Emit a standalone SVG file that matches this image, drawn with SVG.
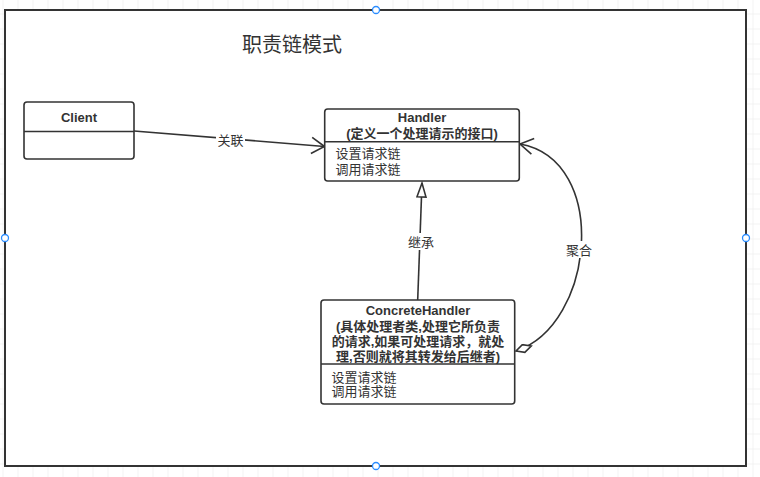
<svg xmlns="http://www.w3.org/2000/svg" width="760" height="477" viewBox="0 0 760 477">
<defs>
<pattern id="grid" x="2.5" y="13.5" width="15" height="15" patternUnits="userSpaceOnUse">
<path d="M0,0 V15 M0,0 H15" fill="none" stroke="#e8e8e8" stroke-width="1"/>
</pattern>
<marker id="openArrow" markerUnits="userSpaceOnUse" markerWidth="20" markerHeight="20" refX="14" refY="9" orient="auto">
<path d="M1,1 L14,9 L1,17" fill="none" stroke="#333" stroke-width="1.6"/>
</marker>
<marker id="hollowTri" markerUnits="userSpaceOnUse" markerWidth="18" markerHeight="12" refX="15" refY="5.5" orient="auto">
<path d="M1,1 L15,5.5 L1,10 Z" fill="#fff" stroke="#333" stroke-width="1.6"/>
</marker>
<marker id="diamond" markerUnits="userSpaceOnUse" markerWidth="20" markerHeight="12" refX="1" refY="5" orient="auto">
<path d="M1,5 L9,1 L17,5 L9,9 Z" fill="#fff" stroke="#333" stroke-width="1.6"/>
</marker>
</defs>
<style>
.node{fill:#fff;stroke:#333;stroke-width:1.6}
.div{stroke:#333;stroke-width:1.6}
.conn{fill:none;stroke:#333;stroke-width:1.6}
.t{font-family:"Liberation Sans","Noto Sans CJK SC",sans-serif;font-size:13px;fill:#333}
.b{font-weight:bold;text-anchor:middle}
.lbl{text-anchor:middle}
.handle{fill:#fff;stroke:#2a8cff;stroke-width:1.3}
</style>
<rect width="760" height="477" fill="#fff"/>
<rect width="760" height="477" fill="url(#grid)"/>
<g id="frame">
<rect x="5" y="10" width="741" height="456" fill="#fff" stroke="#333" stroke-width="2"/>
<text class="t" x="242" y="52" style="font-size:20px">职责链模式</text>
</g>
<g id="connectors">
<path class="conn" d="M134,131 L324.5,146.5" marker-end="url(#openArrow)"/>
<rect x="216" y="132" width="29" height="17" fill="#fff"/>
<text class="t lbl" x="230.5" y="145">关联</text>
<path class="conn" d="M417.7,300 L422,183" marker-end="url(#hollowTri)"/>
<rect x="406" y="233" width="30" height="17" fill="#fff"/>
<text class="t lbl" x="421" y="246.5">继承</text>
<path class="conn" d="M516,351 C595,325 610,160 520,144" marker-start="url(#diamond)" marker-end="url(#openArrow)"/>
<rect x="564" y="241" width="30" height="17" fill="#fff"/>
<text class="t lbl" x="579" y="254.5">聚合</text>
</g>
<g id="client">
<rect class="node" x="24" y="102" width="110" height="57" rx="3"/>
<line class="div" x1="24" y1="131.5" x2="134" y2="131.5"/>
<text class="t b" x="79" y="121.5">Client</text>
</g>
<g id="handler">
<rect class="node" x="324.7" y="109" width="194.6" height="72" rx="3"/>
<line class="div" x1="324.7" y1="141.7" x2="519.3" y2="141.7"/>
<text class="t b" x="422" y="121.5">Handler</text>
<text class="t b" x="422" y="137.5">(定义一个处理请示的接口)</text>
<text class="t" x="335.5" y="158">设置请求链</text>
<text class="t" x="335.5" y="174">调用请求链</text>
</g>
<g id="concreteHandler">
<rect class="node" x="321" y="300" width="193.7" height="104" rx="3"/>
<line class="div" x1="321" y1="364" x2="514.7" y2="364"/>
<text class="t b" x="418" y="315">ConcreteHandler</text>
<text class="t b" x="418" y="330.5">(具体处理者类,处理它所负责</text>
<text class="t b" x="418" y="345.5">的请求,如果可处理请求，就处</text>
<text class="t b" x="418" y="360.5">理,否则就将其转发给后继者)</text>
<text class="t" x="331.5" y="382">设置请求链</text>
<text class="t" x="331.5" y="396">调用请求链</text>
</g>
<g id="handles">
<circle class="handle" cx="376" cy="10" r="3.5"/>
<circle class="handle" cx="5" cy="238" r="3.5"/>
<circle class="handle" cx="746" cy="238" r="3.5"/>
<circle class="handle" cx="376" cy="466" r="3.5"/>
</g>
</svg>
